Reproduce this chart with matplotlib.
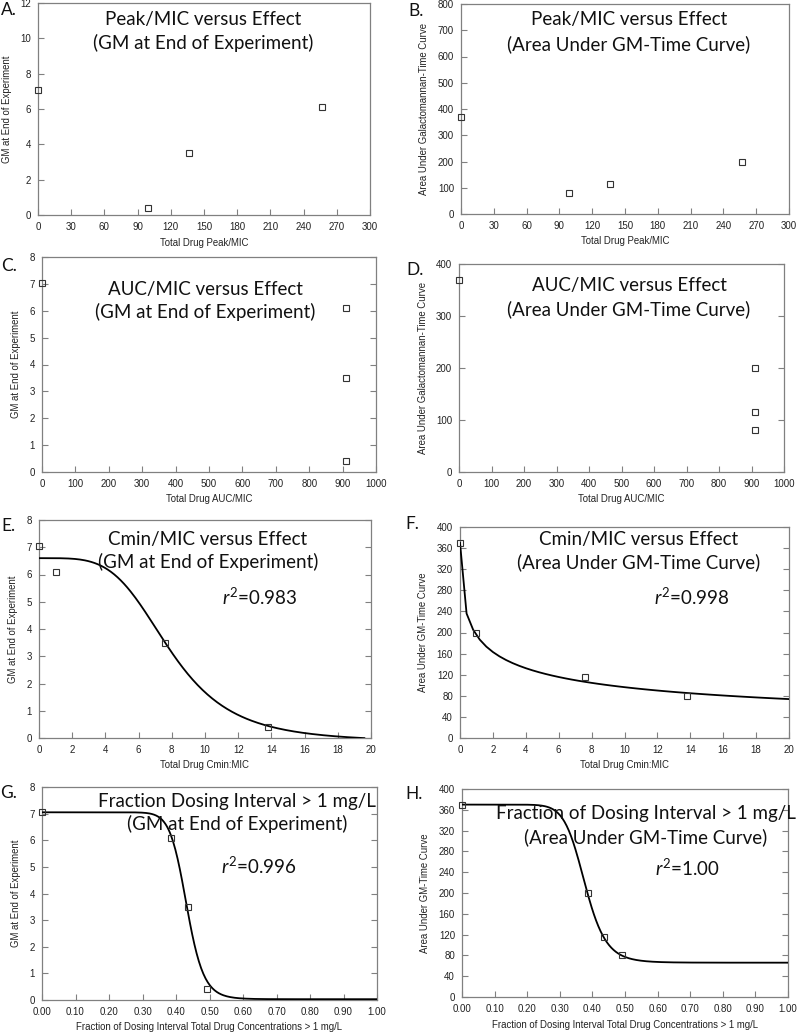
import numpy as np
import matplotlib
matplotlib.use("Agg")
import matplotlib.pyplot as plt
from matplotlib.ticker import MultipleLocator, FormatStrFormatter

plt.rcParams['font.family'] = ['Liberation Sans', 'DejaVu Sans']
plt.rcParams['mathtext.fontset'] = 'custom'
plt.rcParams['mathtext.rm'] = 'Lato'
plt.rcParams['mathtext.it'] = 'Lato:italic'

# observed data (4 dosing regimens)
peak_mic = [0, 99, 136, 257]
auc_mic = [0, 910, 910, 910]
cmin_mic = [0, 1.0, 7.6, 13.8]
frac_dosing = [0, 0.385, 0.435, 0.492]
gm_peak = [7.05, 0.4, 3.5, 6.1]          # GM at end, ordered by peak
aucgm_peak = [370, 80, 115, 200]         # AUC of GM, ordered by peak
gm_by_cmin = [7.05, 6.1, 3.5, 0.4]
aucgm_by_cmin = [370, 200, 115, 80]

# fitted inhibitory sigmoid Emax models: (E0, Emax, EC50, Hill)
fit_E = (6.6, 6.75, 7.9, 4.2)
fit_F = (370, 370, 1.24, 0.5)
fit_G = (7.05, 7.02, 0.432, 17.0)
fit_H = (370, 304, 0.377, 11.6)
r2_E, r2_F, r2_G, r2_H = "0.983", "0.998", "0.996", "1.00"


def hill(x, p):
    e0, emax, ec50, h = p
    return e0 - emax * x**h / (ec50**h + x**h)


W, H = 797, 1036
fig = plt.figure(figsize=(W / 100, H / 100), dpi=100)
title_font = dict(family='Lato', fontsize=13.5)
gray = '#808080'


def make_ax(box, xlim, xstep, ylim, ystep, xlabel, ylabel, right_ticks=True, xfmt=None):
    l, t, r, b = box
    ax = fig.add_axes([l / W, 1 - b / H, (r - l) / W, (b - t) / H])
    ax.set_xlim(*xlim)
    ax.set_ylim(*ylim)
    ax.xaxis.set_major_locator(MultipleLocator(xstep))
    ax.yaxis.set_major_locator(MultipleLocator(ystep))
    if xfmt:
        ax.xaxis.set_major_formatter(FormatStrFormatter(xfmt))
    for s in ax.spines.values():
        s.set_color(gray)
        s.set_linewidth(0.9)
    ax.tick_params(direction='in', length=4, width=0.8, color=gray,
                   labelsize=7, labelcolor='#222222', pad=5,
                   right=right_ticks)
    ax.set_xlabel(xlabel, fontsize=6.9, color='#222222', labelpad=4)
    ax.set_ylabel(ylabel, fontsize=6.9, color='#222222', labelpad=6)
    return ax


def squares(ax, x, y):
    ax.plot(x, y, ls='none', marker='s', ms=4.3, mfc='none', mec='#333333',
            mew=0.8, clip_on=False, zorder=4)


def ftext(x, y, s, **kw):
    fig.text(x / W, 1 - y / H, s, ha='center', va='center', color='#111111', **kw)


gm_label = 'GM at End of Experiment'
auc_label = 'Area Under Galactomannan-Time Curve'
auc2_label = 'Area Under GM-Time Curve'
frac_label = 'Fraction of Dosing Interval Total Drug Concentrations > 1 mg/L'
letter_font = dict(family='Lato', fontsize=12.5)

# A
ax = make_ax((38, 3, 370, 215), (0, 300), 30, (0, 12), 2, 'Total Drug Peak/MIC', gm_label,
             right_ticks=False)
squares(ax, peak_mic, gm_peak)
ftext(203, 19, 'Peak/MIC versus Effect', **title_font)
ftext(203, 43, '(GM at End of Experiment)', **title_font)
ftext(9, 10, 'A.', **letter_font)

# B
ax = make_ax((461, 4, 789, 214), (0, 300), 30, (0, 800), 100, 'Total Drug Peak/MIC', auc_label,
             right_ticks=False)
squares(ax, peak_mic, aucgm_peak)
ftext(629, 20, 'Peak/MIC versus Effect', **title_font)
ftext(629, 44, '(Area Under GM-Time Curve)', **title_font)
ftext(416, 11, 'B.', **letter_font)

# C
ax = make_ax((42, 257, 376, 472), (0, 1000), 100, (0, 8), 1, 'Total Drug AUC/MIC', gm_label)
squares(ax, auc_mic, gm_by_cmin)
ftext(205, 289, 'AUC/MIC versus Effect', **title_font)
ftext(205, 312, '(GM at End of Experiment)', **title_font)
ftext(9, 266, 'C.', **letter_font)

# D
ax = make_ax((459, 264, 784, 472), (0, 1000), 100, (0, 400), 100, 'Total Drug AUC/MIC', auc_label)
squares(ax, auc_mic, aucgm_by_cmin)
ftext(629, 286, 'AUC/MIC versus Effect', **title_font)
ftext(629, 309, '(Area Under GM-Time Curve)', **title_font)
ftext(415, 270, 'D.', **letter_font)

# E
ax = make_ax((39, 520, 371, 738), (0, 20), 2, (0, 8), 1, 'Total Drug Cmin:MIC', gm_label)
xs = np.linspace(0, 19.6, 200)
ax.plot(xs, hill(xs, fit_E), color='black', lw=1.3, zorder=3)
squares(ax, cmin_mic, gm_by_cmin)
ftext(208, 539, 'Cmin/MIC versus Effect', **title_font)
ftext(208, 562, '(GM at End of Experiment)', **title_font)
ftext(260, 597, r'$\it{r}^{2}$=' + r2_E, **title_font)
ftext(8, 526, 'E.', **letter_font)

# F
ax = make_ax((460, 527, 789, 738), (0, 20), 2, (0, 400), 40, 'Total Drug Cmin:MIC', auc2_label)
xs = np.linspace(0, 20, 51)
ax.plot(xs, hill(xs, fit_F), color='black', lw=1.3, zorder=3)
squares(ax, cmin_mic, aucgm_by_cmin)
ftext(639, 539, 'Cmin/MIC versus Effect', **title_font)
ftext(639, 562, '(Area Under GM-Time Curve)', **title_font)
ftext(692, 597, r'$\it{r}^{2}$=' + r2_F, **title_font)
ftext(412, 524, 'F.', **letter_font)

# G
ax = make_ax((42, 787, 377, 1000), (0, 1), 0.1, (0, 8), 1, frac_label, gm_label, xfmt='%.2f')
xs = np.linspace(0, 1, 300)
ax.plot(xs, hill(xs, fit_G), color='black', lw=1.3, zorder=3)
squares(ax, frac_dosing, gm_by_cmin)
ftext(237, 801, 'Fraction Dosing Interval > 1 mg/L', **title_font)
ftext(237, 824, '(GM at End of Experiment)', **title_font)
ftext(259, 866, r'$\it{r}^{2}$=' + r2_G, **title_font)
ftext(9, 793, 'G.', **letter_font)

# H
ax = make_ax((462, 789, 788, 997), (0, 1), 0.1, (0, 400), 40, frac_label, auc2_label, xfmt='%.2f')
ax.plot(xs, hill(xs, fit_H), color='black', lw=1.3, zorder=3)
squares(ax, frac_dosing, aucgm_by_cmin)
ftext(646, 814, 'Fraction of Dosing Interval > 1 mg/L', **title_font)
ftext(646, 837, '(Area Under GM-Time Curve)', **title_font)
ftext(687, 868, r'$\it{r}^{2}$=' + r2_H, **title_font)
ftext(414, 794, 'H.', **letter_font)

fig.savefig('out.png', dpi=100)
